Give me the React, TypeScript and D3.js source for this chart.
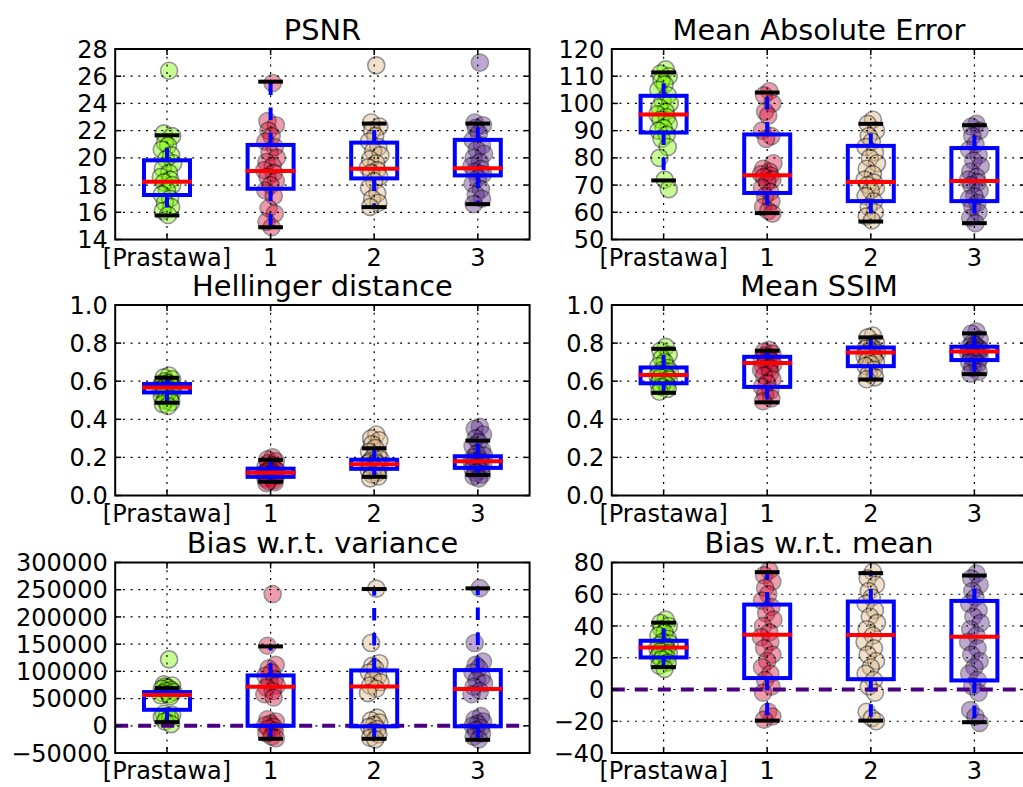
import React from "react";
import * as d3 from "d3";

// ---------- data ----------
const categories = ["[Prastawa]", "1", "2", "3"];

// horizontal jitter of the scatter points (in category units)
const jitter = [0.02, -0.03, 0.05, -0.02, 0.01, -0.05, 0.04, -0.01, 0.06, -0.04, 0.02, -0.06, 0.03, -0.03, 0.05, 0.0, -0.05, 0.03, -0.02, 0.04, -0.04, 0.01, 0.05, -0.03, 0.02];

// stats per category: [whiskerLow, q1, median, q3, whiskerHigh]
const psnrValues = [
  [26.4, 21.8, 21.6, 21.1, 20.9, 20.6, 20.2, 19.9, 19.6, 19.2, 18.9, 18.6, 18.4, 18.2, 18.0, 17.6, 17.3, 17.0, 16.7, 16.4, 16.1, 15.8],
  [25.5, 22.7, 22.4, 22.0, 21.6, 21.2, 20.8, 20.4, 20.0, 19.7, 19.4, 19.1, 18.9, 18.6, 18.3, 18.0, 17.6, 17.2, 16.3, 15.9, 15.3, 14.9],
  [26.8, 22.6, 22.3, 22.0, 21.6, 21.2, 20.8, 20.5, 20.2, 19.9, 19.6, 19.3, 19.1, 18.9, 18.6, 18.3, 17.8, 17.4, 17.0, 16.7, 16.4],
  [27.0, 22.6, 22.4, 22.2, 21.8, 21.3, 20.9, 20.6, 20.3, 20.0, 19.7, 19.4, 19.2, 19.0, 18.8, 18.5, 18.1, 17.7, 17.3, 17.0, 16.6],
];
const psnrStats = [
  [15.77, 17.27, 18.25, 19.82, 21.66],
  [14.9, 17.73, 19.03, 20.95, 25.6],
  [16.38, 18.49, 19.2, 21.12, 22.52],
  [16.6, 18.71, 19.23, 21.32, 22.52],
];
const psnrTicks = [14, 16, 18, 20, 22, 24, 26, 28];

const maeValues = [
  [112.5, 111, 110, 108.5, 107, 105, 103, 101, 100, 98.5, 97, 96, 95, 94, 92.5, 91, 90, 88.5, 87, 84, 80, 72, 68.5],
  [104.5, 103, 100, 97, 95.5, 90, 88, 87, 78, 76, 75, 74, 73.5, 73, 72, 71, 69, 67.5, 66, 64, 62, 60.5, 59.5],
  [94, 92.5, 90, 88, 86, 84, 82, 80, 78, 76, 74, 72, 71, 70, 69, 68, 66, 64, 62, 60, 58.5, 57],
  [92.5, 91.5, 90, 88, 85, 83, 81, 79, 77, 75, 73, 72, 71, 70, 68, 66, 65, 63.5, 62, 60, 58, 56],
];
const maeStats = [
  [71.7, 89.3, 95.9, 102.8, 111.4],
  [59.7, 67.1, 73.6, 88.6, 104.0],
  [56.6, 64.1, 71.1, 84.4, 92.5],
  [56.0, 64.1, 71.5, 83.6, 92.0],
];
const maeTicks = [50, 60, 70, 80, 90, 100, 110, 120];

const hellValues = [
  [0.63, 0.62, 0.61, 0.6, 0.59, 0.585, 0.58, 0.575, 0.57, 0.565, 0.56, 0.555, 0.55, 0.545, 0.54, 0.53, 0.52, 0.51, 0.5, 0.49, 0.48, 0.47],
  [0.2, 0.19, 0.18, 0.17, 0.16, 0.15, 0.14, 0.135, 0.13, 0.125, 0.12, 0.115, 0.11, 0.105, 0.1, 0.095, 0.09, 0.08, 0.075, 0.07, 0.065],
  [0.32, 0.3, 0.29, 0.27, 0.25, 0.23, 0.21, 0.2, 0.19, 0.18, 0.175, 0.17, 0.165, 0.16, 0.15, 0.14, 0.13, 0.12, 0.11, 0.1, 0.09],
  [0.36, 0.35, 0.32, 0.3, 0.28, 0.26, 0.24, 0.22, 0.21, 0.2, 0.19, 0.18, 0.175, 0.17, 0.16, 0.15, 0.14, 0.13, 0.12, 0.11, 0.1, 0.09],
];
const hellStats = [
  [0.487, 0.541, 0.567, 0.585, 0.618],
  [0.072, 0.098, 0.119, 0.141, 0.187],
  [0.098, 0.14, 0.164, 0.188, 0.248],
  [0.108, 0.145, 0.18, 0.206, 0.288],
];
const unitTicks = [0, 0.2, 0.4, 0.6, 0.8, 1.0];

const ssimValues = [
  [0.78, 0.76, 0.74, 0.72, 0.7, 0.68, 0.67, 0.66, 0.65, 0.64, 0.635, 0.63, 0.625, 0.62, 0.61, 0.6, 0.59, 0.58, 0.57, 0.56, 0.545],
  [0.765, 0.755, 0.745, 0.735, 0.725, 0.715, 0.705, 0.7, 0.69, 0.68, 0.67, 0.66, 0.645, 0.63, 0.61, 0.59, 0.57, 0.55, 0.53, 0.51, 0.495],
  [0.84, 0.83, 0.8, 0.79, 0.78, 0.77, 0.765, 0.76, 0.75, 0.745, 0.74, 0.73, 0.72, 0.71, 0.7, 0.69, 0.68, 0.66, 0.64, 0.62, 0.61],
  [0.86, 0.85, 0.82, 0.8, 0.79, 0.78, 0.775, 0.77, 0.765, 0.76, 0.755, 0.75, 0.74, 0.73, 0.72, 0.71, 0.7, 0.69, 0.67, 0.65, 0.64],
];
const ssimStats = [
  [0.539, 0.589, 0.632, 0.672, 0.77],
  [0.489, 0.57, 0.695, 0.728, 0.76],
  [0.609, 0.679, 0.751, 0.777, 0.83],
  [0.637, 0.711, 0.756, 0.781, 0.851],
];

const bvarValues = [
  [122000, 76000, 74000, 72000, 70000, 68000, 66000, 64000, 62000, 60000, 58000, 56000, 54000, 22000, 20000, 18000, 16000, 14000, 8000, 3000],
  [242000, 147000, 112000, 105000, 98000, 92000, 86000, 80000, 74000, 70000, 64000, 58000, 52000, 12000, 8000, 4000, 1000, -2000, -5000, -9000, -14000, -20000, -23000],
  [252000, 152000, 115000, 110000, 105000, 98000, 92000, 86000, 80000, 74000, 68000, 60000, 15000, 10000, 6000, 2000, -2000, -6000, -10000, -16000, -22000, -25000],
  [253000, 152000, 118000, 112000, 106000, 98000, 90000, 84000, 78000, 72000, 64000, 58000, 18000, 12000, 8000, 4000, 0, -4000, -8000, -14000, -20000, -25000],
];
const bvarStats = [
  [6700, 29400, 56400, 61900, 69240],
  [-23900, 0, 71700, 92500, 145800],
  [-23900, -1000, 72300, 101700, 251200],
  [-25700, -1000, 67400, 102300, 252500],
];
const bvarTicks = [-50000, 0, 50000, 100000, 150000, 200000, 250000, 300000];

const bmeanValues = [
  [44, 42, 40, 38, 36, 34, 32, 30, 29, 28, 27, 26, 25, 24, 23, 22, 21, 20, 19, 17, 15, 13],
  [75, 72, 68, 64, 60, 56, 52, 48, 44, 40, 36, 33, 30, 26, 22, 18, 14, 10, 6, 2, -2, -14, -17, -19],
  [74, 70, 66, 62, 58, 54, 50, 46, 42, 38, 34, 30, 26, 22, 18, 14, 10, 6, 2, -2, -14, -18, -20],
  [73, 70, 66, 62, 58, 54, 50, 46, 42, 38, 34, 30, 26, 22, 18, 14, 10, 6, 2, -2, -13, -17, -21],
];
const bmeanStats = [
  [14.1, 20.2, 26.5, 30.7, 42.1],
  [-19.6, 7.2, 34.5, 53.5, 73.9],
  [-19.6, 6.5, 34.3, 55.4, 73.3],
  [-20.6, 5.7, 33.3, 55.8, 71.8],
];
const bmeanTicks = [-40, -20, 0, 20, 40, 60, 80];

// ---------- styles ----------
const seriesColors = ["#7CFC00", "#DC143C", "#DEB887", "#663399"];
const FONT = "DejaVu Sans, sans-serif";
const W = 1023;
const H = 787;
const colX = [115.2, 611.8];
const rowY = [49, 305, 562.5];
const PW = 414.4;
const PH = 190.5;

type PanelDef = {
  title: string;
  values: number[][];
  stats: number[][];
  ticks: number[];
  fmt: (v: number) => string;
  zero?: boolean;
};

const intFmt = d3.format("d");
const oneFmt = d3.format(".1f");

const panels: PanelDef[] = [
  { title: "PSNR", values: psnrValues, stats: psnrStats, ticks: psnrTicks, fmt: intFmt },
  { title: "Mean Absolute Error", values: maeValues, stats: maeStats, ticks: maeTicks, fmt: intFmt },
  { title: "Hellinger distance", values: hellValues, stats: hellStats, ticks: unitTicks, fmt: oneFmt },
  { title: "Mean SSIM", values: ssimValues, stats: ssimStats, ticks: unitTicks, fmt: oneFmt },
  { title: "Bias w.r.t. variance", values: bvarValues, stats: bvarStats, ticks: bvarTicks, fmt: intFmt, zero: true },
  { title: "Bias w.r.t. mean", values: bmeanValues, stats: bmeanStats, ticks: bmeanTicks, fmt: intFmt, zero: true },
];

function Panel({ p, x0, y0 }: { p: PanelDef; x0: number; y0: number }) {
  const x = d3.scaleLinear().domain([0.5, 4.5]).range([x0, x0 + PW]);
  const y = d3
    .scaleLinear()
    .domain([p.ticks[0], p.ticks[p.ticks.length - 1]])
    .range([y0 + PH, y0]);
  const boxHalf = 0.222;
  const capHalf = 0.1;
  const tickLen = 6;
  const idx = categories.map((_, i) => i + 1);

  return (
    <g>
      {/* points */}
      {p.values.map((vals, ci) =>
        vals.map((v, j) => (
          <circle
            key={`pt-${ci}-${j}`}
            cx={x(ci + 1 + jitter[j % jitter.length])}
            cy={y(v)}
            r={8.5}
            fill={seriesColors[ci]}
            stroke="#000"
            strokeWidth={1.6}
            opacity={0.42}
          />
        ))
      )}
      {/* grid */}
      {p.ticks.map((t, i) => (
        <line key={`gy-${i}`} x1={x0} x2={x0 + PW} y1={y(t)} y2={y(t)} stroke="#000" strokeWidth={1.2} strokeDasharray="2,5.7" />
      ))}
      {idx.map((c) => (
        <line key={`gx-${c}`} x1={x(c)} x2={x(c)} y1={y0} y2={y0 + PH} stroke="#000" strokeWidth={1.2} strokeDasharray="2,5.7" />
      ))}
      {/* zero line */}
      {p.zero && (
        <line x1={x0} x2={x0 + PW} y1={y(0)} y2={y(0)} stroke="#4B0082" strokeWidth={4} strokeDasharray="13,10" />
      )}
      {/* boxes */}
      {p.stats.map((s, ci) => {
        const c = ci + 1;
        const [lo, q1, med, q3, hi] = s;
        return (
          <g key={`box-${ci}`}>
            <line x1={x(c)} x2={x(c)} y1={y(q3)} y2={y(hi)} stroke="#0000FF" strokeWidth={4} strokeDasharray="12.5,12.5" />
            <line x1={x(c)} x2={x(c)} y1={y(q1)} y2={y(lo)} stroke="#0000FF" strokeWidth={4} strokeDasharray="12.5,12.5" />
            <line x1={x(c - capHalf)} x2={x(c + capHalf)} y1={y(hi)} y2={y(hi)} stroke="#000" strokeWidth={4} strokeLinecap="square" />
            <line x1={x(c - capHalf)} x2={x(c + capHalf)} y1={y(lo)} y2={y(lo)} stroke="#000" strokeWidth={4} strokeLinecap="square" />
            <rect
              x={x(c - boxHalf)}
              y={y(q3)}
              width={x(c + boxHalf) - x(c - boxHalf)}
              height={y(q1) - y(q3)}
              fill="none"
              stroke="#0000FF"
              strokeWidth={4}
              strokeLinejoin="miter"
            />
            <line x1={x(c - boxHalf)} x2={x(c + boxHalf)} y1={y(med)} y2={y(med)} stroke="#FF0000" strokeWidth={4} strokeLinecap="square" />
          </g>
        );
      })}
      {/* frame */}
      <rect x={x0} y={y0} width={PW} height={PH} fill="none" stroke="#000" strokeWidth={2} />
      {/* tick marks */}
      {p.ticks.map((t, i) => (
        <g key={`ty-${i}`}>
          <line x1={x0} x2={x0 + tickLen} y1={y(t)} y2={y(t)} stroke="#000" strokeWidth={1.5} />
          <line x1={x0 + PW} x2={x0 + PW - tickLen} y1={y(t)} y2={y(t)} stroke="#000" strokeWidth={1.5} />
        </g>
      ))}
      {idx.map((c) => (
        <g key={`tx-${c}`}>
          <line x1={x(c)} x2={x(c)} y1={y0 + PH} y2={y0 + PH - tickLen} stroke="#000" strokeWidth={1.5} />
          <line x1={x(c)} x2={x(c)} y1={y0} y2={y0 + tickLen} stroke="#000" strokeWidth={1.5} />
        </g>
      ))}
      {/* tick labels */}
      {p.ticks.map((t, i) => (
        <text key={`ly-${i}`} x={x0 - 7.5} y={y(t)} dy="0.36em" textAnchor="end" fontFamily={FONT} fontSize={24} fill="#000">
          {p.fmt(t)}
        </text>
      ))}
      {categories.map((cat, i) => (
        <text key={`lx-${i}`} x={x(i + 1)} y={y0 + PH + 26} textAnchor="middle" fontFamily={FONT} fontSize={24} fill="#000">
          {cat}
        </text>
      ))}
      {/* title */}
      <text x={x0 + PW / 2} y={y0 - 9.5} textAnchor="middle" fontFamily={FONT} fontSize={28.8} fill="#000">
        {p.title}
      </text>
    </g>
  );
}

export default function App() {
  return (
    <svg
      width={W}
      height={H}
      viewBox={`0 0 ${W} ${H}`}
      style={{ position: "absolute", left: 0, top: 0, background: "#fff" }}
    >
      <rect x={0} y={0} width={W} height={H} fill="#fff" />
      {panels.map((p, i) => (
        <Panel key={i} p={p} x0={colX[i % 2]} y0={rowY[Math.floor(i / 2)]} />
      ))}
    </svg>
  );
}
